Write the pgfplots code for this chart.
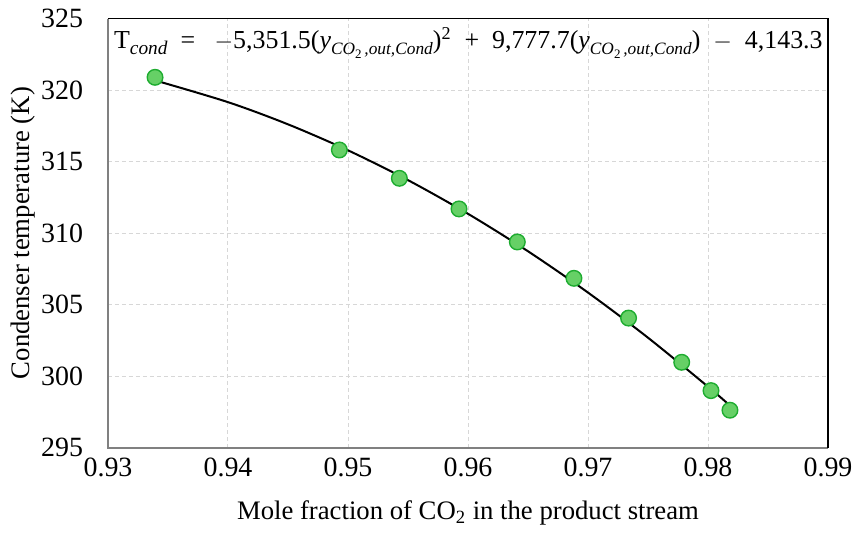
\documentclass[border=0pt]{standalone}
\usepackage{fontspec}
\setmainfont{Liberation Serif}
\usepackage{pgfplots}
\pgfplotsset{compat=1.18}
\definecolor{mkfill}{RGB}{102,208,102}
\definecolor{mkdraw}{RGB}{30,172,48}
\definecolor{gridc}{RGB}{215,215,215}
\definecolor{lframe}{RGB}{128,128,128}
\newcommand{\ysub}{\textit{y}\raisebox{-0.5ex}{\fontsize{8.7}{9}\selectfont\textit{CO}\raisebox{-0.45ex}{\fontsize{6.5}{7}\selectfont 2}\,\textit{,out,Cond}}}
\begin{document}
\begin{tikzpicture}
\path[use as bounding box] (-54bp,-43.65bp) rectangle (373.5bp,223.85bp);
\begin{axis}[
  at={(0,0)}, anchor=south west,
  scale only axis,
  width=360bp, height=214.6bp,
  xmin=0.93, xmax=0.99, ymin=295, ymax=325,
  xtick={0.93,0.94,0.95,0.96,0.97,0.98,0.99},
  ytick={295,300,305,310,315,320,325},
  xticklabels={0.93,0.94,0.95,0.96,0.97,0.98,0.99},
  grid=major,
  major grid style={gridc, line width=0.5bp, dash pattern=on 2bp off 1.5bp},
  major tick length=0pt,
  axis line style={draw=none},
  /pgf/number format/assume math mode=true,
  ticklabel style={font=\fontsize{14}{16}\selectfont},
  yticklabel style={xshift=-9bp},
  xticklabel style={yshift=-1.5bp},
  xlabel={Mole fraction of CO\textsubscript{2} in the product stream},
  ylabel={Condenser temperature (K)},
  label style={font=\fontsize{13.4}{15}\selectfont},
  xlabel style={yshift=-5bp},
  ylabel style={yshift=-4bp},
  clip=false,
]
\addplot[black, line width=1bp, smooth, no markers] coordinates {
 (0.9339,320.680) (0.940,319.153) (0.945,317.603) (0.950,315.786)
 (0.955,313.702) (0.960,311.350) (0.965,308.730) (0.970,305.843)
 (0.975,302.688) (0.980,299.265) (0.9818,297.968)
};
\addplot[only marks, mark=*, mark size=3.9bp,
  mark options={fill=mkfill, draw=mkdraw, line width=0.7bp}] coordinates {
 (0.93392,320.89) (0.94928,315.81) (0.95428,313.83) (0.95925,311.69)
 (0.96411,309.38) (0.96883,306.84) (0.97338,304.06) (0.97781,300.97)
 (0.98025,298.99) (0.98183,297.62)
};
\draw[lframe, line width=0.9bp] (rel axis cs:0,1) -- (rel axis cs:0,0) -- (rel axis cs:1,0);
\draw[black, line width=0.9bp] (rel axis cs:0,1) -- (rel axis cs:1,1) -- (rel axis cs:1,0);
\node[anchor=base west, inner sep=0pt, font=\fontsize{13}{15}\selectfont] at (rel axis cs:0.008,0.93)
 {T\raisebox{-0.5ex}{\fontsize{9.7}{10}\selectfont\textit{cond}}\enspace = \enspace$-$5,351.5(\ysub)\textsuperscript{2}\enspace+\enspace 9,777.7(\ysub)\enspace$-$\enspace 4,143.3};
\end{axis}
\end{tikzpicture}
\end{document}
